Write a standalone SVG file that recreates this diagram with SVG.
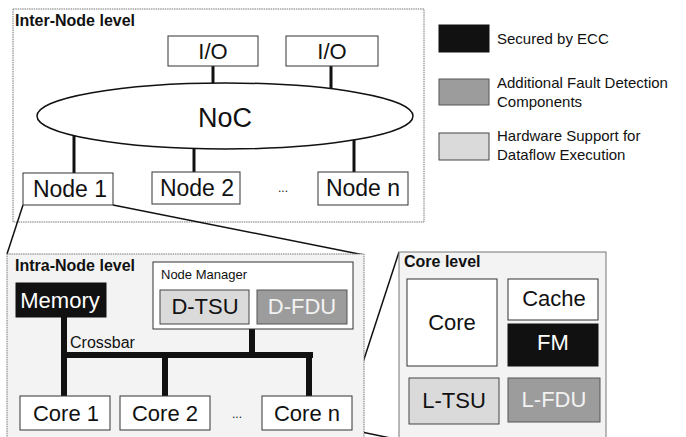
<svg xmlns="http://www.w3.org/2000/svg" width="686" height="437" viewBox="0 0 686 437">
  <style>
    text { font-family: "Liberation Sans", Arial, Helvetica, sans-serif; fill: #111; }
    .title { font-size: 16px; font-weight: bold; }
    .lbl { font-size: 22px; text-anchor: middle; }
    .node { font-size: 23px; }
    .legend { font-size: 15px; }
    .plain { fill: #fff; stroke: #333; stroke-width: 1; }
    .ecc { fill: #111; stroke: #111; stroke-width: 1; }
    .fdu { fill: #9c9c9c; stroke: #555; stroke-width: 1; }
    .tsu { fill: #dadada; stroke: #444; stroke-width: 1; }
    .frame { fill: #f3f3f3; stroke: #777; stroke-width: 1; }
    .link { stroke: #111; stroke-width: 3; fill: none; }
    .bus { stroke: #111; stroke-width: 6; fill: none; stroke-linecap: square; }
    .zoomline { stroke: #111; stroke-width: 1.5; fill: none; }
    .light { fill: #f2f2f2; }
    .inv { fill: #fff; }
  </style>

  <!-- Inter-Node level frame -->
  <g id="inter-node-level">
    <rect x="13" y="9" width="411" height="213" fill="#fff" stroke="#777" stroke-width="1" stroke-dasharray="1.5 0.8"/>
    <text class="title" x="15" y="26">Inter-Node level</text>
  </g>

  <!-- Zoom guides between levels -->
  <g id="zoom-guides">
    <path class="zoomline" d="M23,205 L7,254"/>
    <path class="zoomline" d="M113,205 L364,255"/>
    <path class="zoomline" d="M352,396 L399,252"/>
    <path class="zoomline" d="M352,430 L400,440"/>
  </g>

  <!-- Inter-node connectors -->
  <g id="connectors">
    <path class="link" d="M213,66 V84"/>
    <path class="link" d="M331,66 V89"/>
    <path class="link" d="M74,136 V173"/>
    <path class="link" d="M194,148 V172"/>
    <path class="link" d="M354,140 V172"/>
  </g>

  <g id="io-1">
    <rect class="plain" x="168" y="36" width="90" height="30"/>
    <text class="lbl" x="213" y="59">I/O</text>
  </g>
  <g id="io-2">
    <rect class="plain" x="286" y="36" width="92" height="30"/>
    <text class="lbl" x="332" y="59">I/O</text>
  </g>
  <g id="noc">
    <ellipse cx="225" cy="116" rx="188" ry="33" fill="#fff" stroke="#111" stroke-width="1.5"/>
    <text class="lbl" x="225" y="127" style="font-size:27px">NoC</text>
  </g>
  <g id="node-1">
    <rect class="plain" x="23" y="173" width="90" height="32"/>
    <text class="lbl node" x="70" y="197">Node 1</text>
  </g>
  <g id="node-2">
    <rect class="plain" x="152" y="172" width="88" height="32"/>
    <text class="lbl node" x="197" y="196">Node 2</text>
  </g>
  <g id="node-dots">
    <text x="283" y="192" style="font-size:12px" text-anchor="middle">...</text>
  </g>
  <g id="node-n">
    <rect class="plain" x="318" y="172" width="90" height="33"/>
    <text class="lbl node" x="363" y="196">Node n</text>
  </g>

  <!-- Legend -->
  <g id="legend">
    <rect class="ecc" x="439" y="25" width="50" height="27"/>
    <text class="legend" x="497" y="44">Secured by ECC</text>
    <rect class="fdu" x="439" y="79" width="50" height="26"/>
    <text class="legend" x="497" y="88">Additional Fault Detection</text>
    <text class="legend" x="497" y="107">Components</text>
    <rect class="tsu" x="439" y="133" width="50" height="27"/>
    <text class="legend" x="497" y="141">Hardware Support for</text>
    <text class="legend" x="497" y="160">Dataflow Execution</text>
  </g>

  <!-- Intra-Node level -->
  <g id="intra-node-level">
    <rect class="frame" x="7" y="254" width="357" height="200" stroke-dasharray="1.5 0.8"/>
    <text class="title" x="15" y="271">Intra-Node level</text>
  </g>

  <g id="crossbar">
    <path class="bus" d="M64,317 V395"/>
    <path class="bus" d="M64,355 H310"/>
    <path class="bus" d="M252,329 V355"/>
    <path class="bus" d="M165,355 V395"/>
    <path class="bus" d="M309,355 V395"/>
    <text x="70" y="348" style="font-size:16px">Crossbar</text>
  </g>

  <g id="memory">
    <rect class="ecc" x="16" y="283" width="90" height="34"/>
    <text class="lbl inv" x="60" y="308">Memory</text>
  </g>

  <g id="node-manager">
    <rect class="plain" x="153" y="262" width="200" height="67" stroke="#555"/>
    <text x="161" y="279" style="font-size:13px">Node Manager</text>
  </g>
  <g id="d-tsu">
    <rect class="tsu" x="160" y="290" width="89" height="34"/>
    <text class="lbl" x="205" y="314">D-TSU</text>
  </g>
  <g id="d-fdu">
    <rect class="fdu" x="257" y="290" width="90" height="34"/>
    <text class="lbl light" x="302" y="314">D-FDU</text>
  </g>

  <g id="core-1">
    <rect class="plain" x="20" y="396" width="90" height="34"/>
    <text class="lbl" x="66" y="421">Core 1</text>
  </g>
  <g id="core-2">
    <rect class="plain" x="120" y="396" width="90" height="34"/>
    <text class="lbl" x="165" y="421">Core 2</text>
  </g>
  <g id="core-dots">
    <text x="237" y="418" style="font-size:12px" text-anchor="middle">...</text>
  </g>
  <g id="core-n">
    <rect class="plain" x="262" y="396" width="90" height="34"/>
    <text class="lbl" x="307" y="421">Core n</text>
  </g>

  <!-- Core level -->
  <g id="core-level">
    <rect class="frame" x="399" y="252" width="207" height="200" stroke="#444"/>
    <text class="title" x="404" y="267">Core level</text>
  </g>
  <g id="core">
    <rect class="plain" x="407" y="279" width="90" height="87"/>
    <text class="lbl" x="452" y="330">Core</text>
  </g>
  <g id="cache">
    <rect class="plain" x="508" y="279" width="90" height="41"/>
    <text class="lbl" x="554" y="306">Cache</text>
  </g>
  <g id="fm">
    <rect class="ecc" x="508" y="324" width="90" height="42"/>
    <text class="lbl inv" x="553" y="350">FM</text>
  </g>
  <g id="l-tsu">
    <rect class="tsu" x="409" y="378" width="90" height="46"/>
    <text class="lbl" x="454" y="408">L-TSU</text>
  </g>
  <g id="l-fdu">
    <rect class="fdu" x="508" y="378" width="92" height="44"/>
    <text class="lbl light" x="554" y="407">L-FDU</text>
  </g>
</svg>
